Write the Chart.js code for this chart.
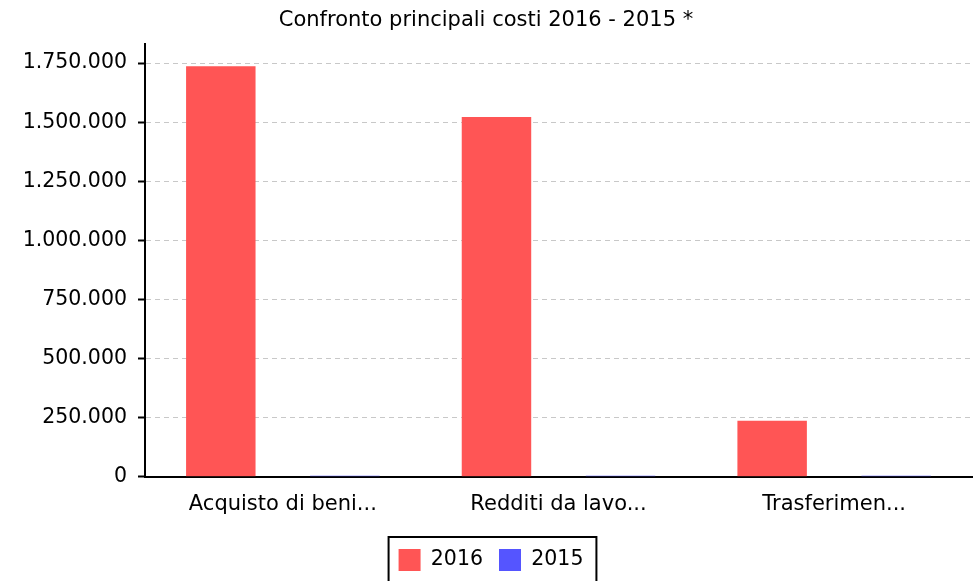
<!DOCTYPE html>
<html>
<head>
<meta charset="utf-8">
<script src="https://cdn.jsdelivr.net/npm/chart.js@4/dist/chart.umd.min.js"></script>
<style>
  html, body { margin: 0; padding: 0; background: #fff; }
  #wrap { width: 980px; height: 581px; }
</style>
</head>
<body>
<div id="wrap"><canvas id="chart"></canvas></div>
<script>
const categories = ["Acquisto di beni...", "Redditi da lavo...", "Trasferimen..."];
const values2016 = [1737000, 1522000, 237000];
const values2015 = [0, 0, 0];
const yTicks = [0, 250000, 500000, 750000, 1000000, 1250000, 1500000, 1750000];

function formatIt(v) {
    return String(v).replace(/\B(?=(\d{3})+(?!\d))/g, ".");
}

// box around the legend, like the original
const legendBox = {
    id: "legendBox",
    afterLayout(chart) {
        // nudge the legend a little to the right
        chart.legend.left += 5;
        chart.legend.right += 5;
    },
    afterDraw(chart) {
        const boxes = chart.legend.legendHitBoxes;
        if (!boxes || !boxes.length) return;
        let left = Infinity, right = -Infinity, top = Infinity;
        boxes.forEach(b => {
            left = Math.min(left, b.left);
            right = Math.max(right, b.left + b.width);
            top = Math.min(top, b.top);
        });
        const ctx = chart.ctx;
        ctx.save();
        ctx.strokeStyle = "#000";
        ctx.lineWidth = 2;
        ctx.strokeRect(left - 10, top - 12, right - left + 23, 80);
        ctx.restore();
    }
};

const font = "'DejaVu Sans', sans-serif";

new Chart(document.getElementById("chart"), {
    type: "bar",
    data: {
        labels: categories,
        datasets: [
            { label: "2016", data: values2016, backgroundColor: "#FF5555" },
            { label: "2015", data: values2015, backgroundColor: "#5555FF", minBarLength: 1 }
        ]
    },
    options: {
        responsive: true,
        maintainAspectRatio: false,
        animation: false,
        devicePixelRatio: 1,
        categoryPercentage: 0.9,
        barPercentage: 0.56,
        layout: { padding: { left: 0, right: 8, top: 0, bottom: 0 } },
        plugins: {
            title: {
                display: true,
                text: "Confronto principali costi 2016 - 2015 *",
                color: "#000",
                font: { family: font, size: 21, weight: "normal" },
                padding: { top: 8, bottom: 11 }
            },
            legend: {
                position: "bottom",
                labels: {
                    color: "#000",
                    font: { family: font, size: 20.5 },
                    boxWidth: 22,
                    boxHeight: 22,
                    padding: 16
                }
            },
            tooltip: { enabled: false }
        },
        scales: {
            x: {
                afterFit(scale) { scale.height += 9; },
                grid: { display: false },
                border: { display: true, color: "#000", width: 2 },
                ticks: { color: "#000", font: { family: font, size: 21 }, padding: 7, maxRotation: 0, autoSkip: false }
            },
            y: {
                min: 0,
                max: 1830000,
                afterFit(scale) { scale.width = 145; },
                afterBuildTicks(scale) { scale.ticks = yTicks.map(v => ({ value: v })); },
                grid: { color: "#C8C8C8", lineWidth: 1, tickColor: "#000", tickWidth: 2, tickLength: 7, tickBorderDash: [] },
                border: { display: true, color: "#000", width: 2, dash: [5, 4] },
                ticks: {
                    color: "#000",
                    font: { family: font, size: 20.5 },
                    padding: 11,
                    callback: v => formatIt(v)
                }
            }
        }
    },
    plugins: [legendBox]
});
</script>
</body>
</html>
